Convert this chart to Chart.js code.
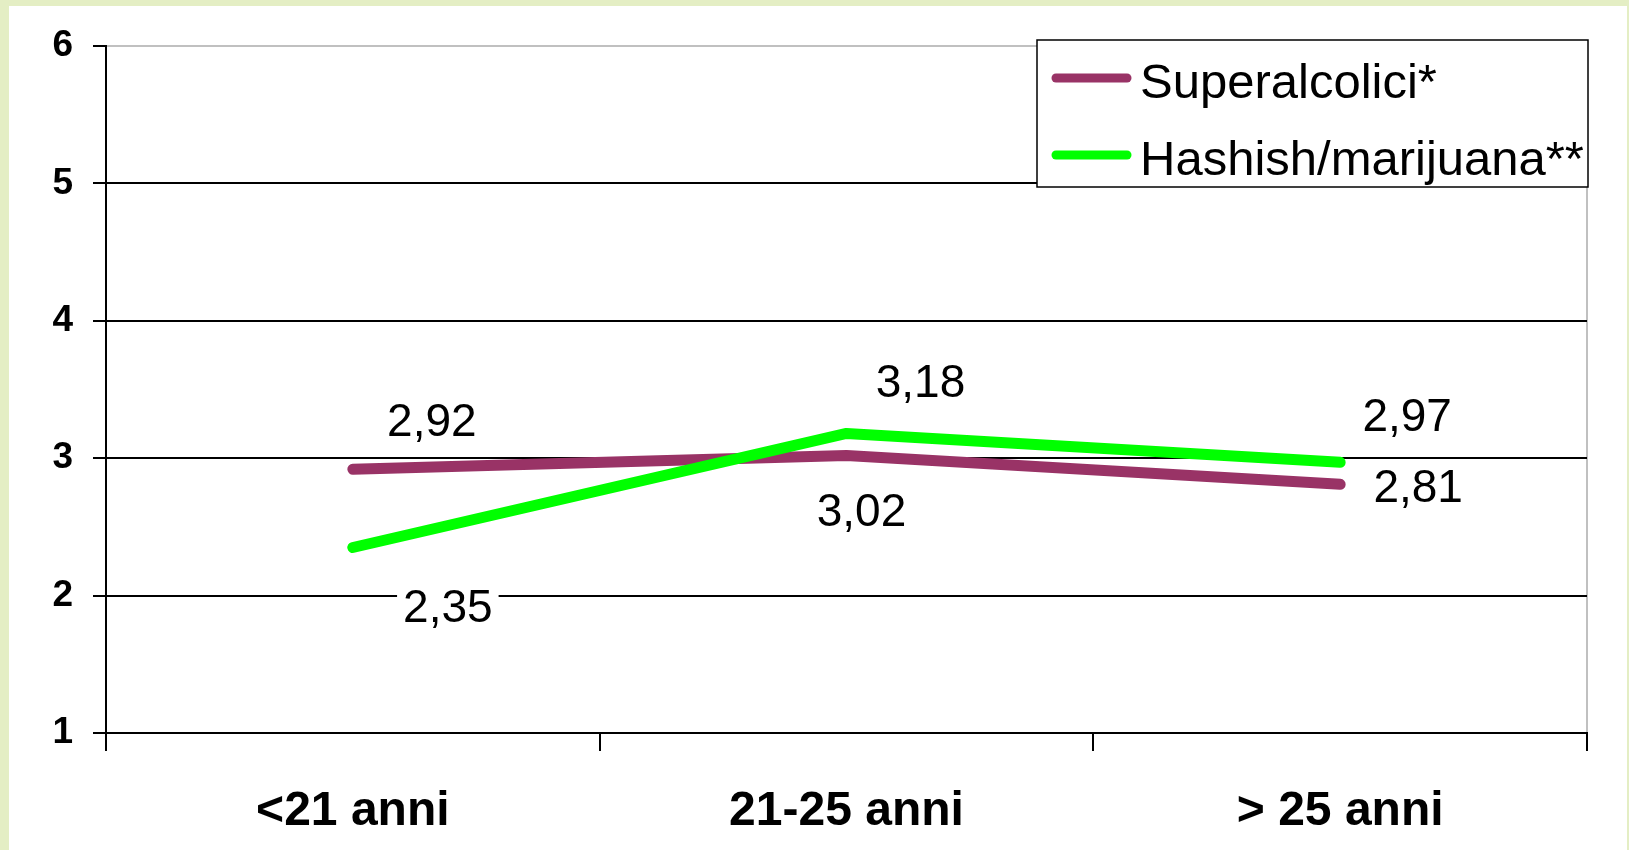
<!DOCTYPE html>
<html>
<head>
<meta charset="utf-8">
<script src="https://cdn.jsdelivr.net/npm/chart.js@4.4.0/dist/chart.umd.min.js"></script>
<style>
  html, body { margin: 0; padding: 0; background: #e4eec4; }
  #wrap { position: absolute; left: 0; top: 0; width: 1629px; height: 850px; }
</style>
</head>
<body>
<div id="wrap"><canvas id="myChart" width="1629" height="850"></canvas></div>
<script>
var categories = ['<21 anni', '21-25 anni', '> 25 anni'];
var superalcolici = [2.92, 3.02, 2.81];
var hashish = [2.35, 3.18, 2.97];
var seriesNames = ['Superalcolici*', 'Hashish/marijuana**'];
var yMin = 1;
var yMax = 6;

var FONT = "'Liberation Sans', Arial, sans-serif";

function fmt(v) {
  return v.toFixed(2).replace('.', ',');
}

// green page behind a white panel
var panel = {
  id: 'panel',
  beforeDraw: function(chart) {
    var c = chart.ctx;
    c.save();
    c.fillStyle = '#e4eec4';
    c.fillRect(0, 0, chart.width, chart.height);
    c.fillStyle = '#ffffff';
    c.fillRect(9, 6, 1618, 844);
    c.restore();
  }
};

// value labels next to each point
var valueLabels = {
  id: 'valueLabels',
  afterDatasetsDraw: function(chart, args, opts) {
    var c = chart.ctx;
    c.save();
    c.font = '46px ' + FONT;
    c.textAlign = 'center';
    c.textBaseline = 'alphabetic';
    chart.data.datasets.forEach(function(ds, i) {
      var meta = chart.getDatasetMeta(i);
      var offs = opts.offsets[i];
      meta.data.forEach(function(pt, j) {
        var txt = fmt(ds.data[j]);
        var cx = pt.x + offs[j][0];
        var cy = pt.y + offs[j][1];
        if (opts.boxed[i]) {
          var w = c.measureText(txt).width;
          c.fillStyle = '#ffffff';
          c.fillRect(cx - w / 2 - 6, cy - 36, w + 12, 64);
        }
        c.fillStyle = '#000000';
        c.fillText(txt, cx, cy + 16.5);
      });
    });
    c.restore();
  }
};

// boxed legend in the top right corner
var boxLegend = {
  id: 'boxLegend',
  afterDraw: function(chart) {
    var c = chart.ctx;
    var x0 = 1037, y0 = 40, x1 = 1588, y1 = 187;
    c.save();
    c.fillStyle = '#ffffff';
    c.fillRect(x0, y0, x1 - x0, y1 - y0);
    c.beginPath();
    c.rect(x0, y0, x1 - x0, y1 - y0);
    c.clip();
    var rows = [78, 155];
    chart.data.datasets.forEach(function(ds, i) {
      c.strokeStyle = ds.borderColor;
      c.lineWidth = 9;
      c.lineCap = 'round';
      c.beginPath();
      c.moveTo(1056, rows[i]);
      c.lineTo(1127, rows[i]);
      c.stroke();
      c.fillStyle = '#000000';
      c.font = '49px ' + FONT;
      c.textAlign = 'left';
      c.textBaseline = 'alphabetic';
      c.fillText(ds.label, 1140, rows[i] + 20);
    });
    c.restore();
    c.save();
    c.strokeStyle = '#000000';
    c.lineWidth = 1.5;
    c.strokeRect(x0, y0, x1 - x0, y1 - y0);
    c.restore();
  }
};

var ctx = document.getElementById('myChart');

var chart = new Chart(ctx, {
  type: 'line',
  data: {
    labels: categories,
    datasets: [
      {
        label: seriesNames[0],
        data: superalcolici,
        borderColor: '#993366',
        backgroundColor: '#993366',
        borderWidth: 11,
        borderCapStyle: 'round',
        borderJoinStyle: 'round',
        pointRadius: 0,
        tension: 0,
        order: 1
      },
      {
        label: seriesNames[1],
        data: hashish,
        borderColor: '#00ff00',
        backgroundColor: '#00ff00',
        borderWidth: 11,
        borderCapStyle: 'round',
        borderJoinStyle: 'round',
        pointRadius: 0,
        tension: 0,
        order: 0
      }
    ]
  },
  plugins: [panel, valueLabels, boxLegend],
  options: {
    responsive: false,
    animation: false,
    layout: {
      padding: { left: 0, top: 46, right: 42, bottom: 0 }
    },
    plugins: {
      legend: { display: false },
      tooltip: { enabled: false },
      valueLabels: {
        offsets: [
          [[79, -50], [15, 54], [78, 1]],
          [[95, 58], [74, -53], [67, -48]]
        ],
        boxed: [false, true]
      }
    },
    scales: {
      x: {
        offset: true,
        afterFit: function(scale) { scale.height = 117; },
        grid: {
          offset: true,
          lineWidth: 2,
          tickLength: 18,
          tickColor: '#000000',
          color: function(c) {
            return (c.type === 'scale' || c.index === 3) ? '#c0c0c0' : 'rgba(0,0,0,0)';
          }
        },
        border: { color: '#000000', width: 2 },
        ticks: {
          color: '#000000',
          padding: 32,
          font: { family: FONT, size: 48, weight: 'bold' }
        }
      },
      y: {
        min: yMin,
        max: yMax,
        afterFit: function(scale) { scale.width = 106; },
        grid: {
          lineWidth: 2,
          tickLength: 13,
          tickColor: '#000000',
          color: function(c) {
            return (c.tick && c.tick.value === yMax) ? '#c0c0c0' : '#000000';
          }
        },
        border: { color: '#000000', width: 2 },
        ticks: {
          stepSize: 1,
          color: '#000000',
          padding: 20,
          font: { family: FONT, size: 37, weight: 'bold' }
        }
      }
    }
  }
});
</script>
</body>
</html>
